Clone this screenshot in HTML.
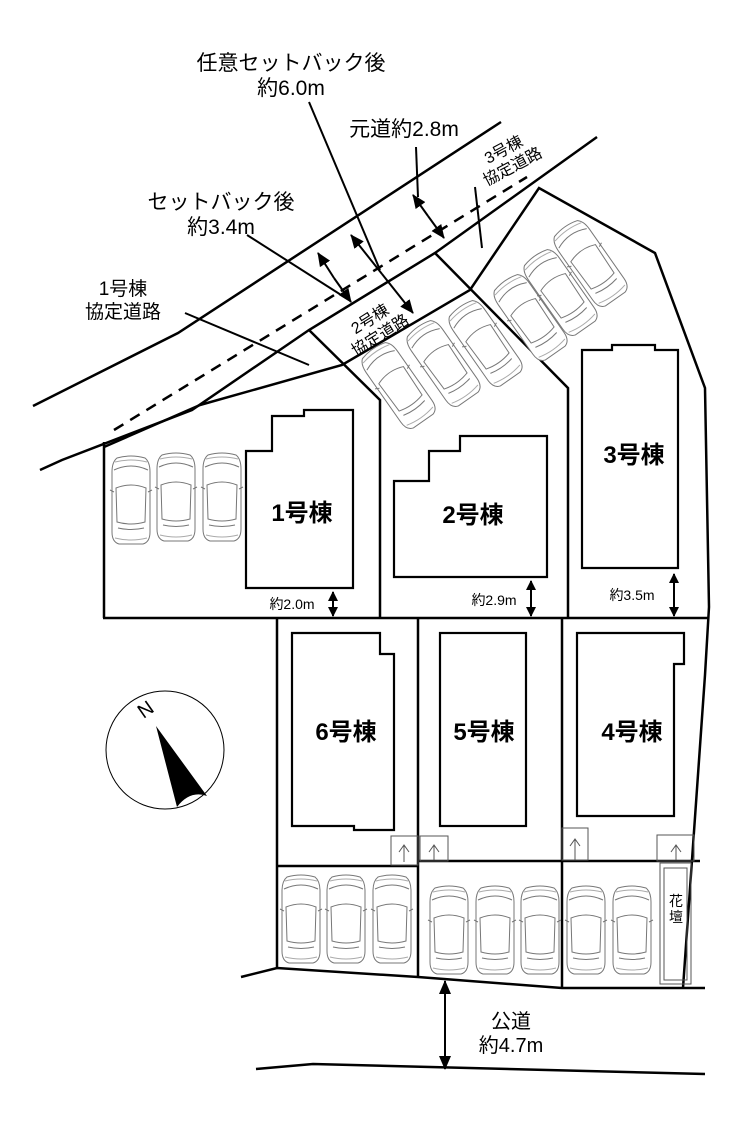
<!DOCTYPE html>
<html><head><meta charset="utf-8"><style>
html,body{margin:0;padding:0;background:#fff;}
svg{display:block;}
text{font-family:"Liberation Sans","Noto Sans CJK JP",sans-serif;fill:#000;}
</style></head><body>
<svg width="740" height="1125" viewBox="0 0 740 1125" xmlns="http://www.w3.org/2000/svg">
<defs>
<g id="car" fill="#fff" stroke="#777" stroke-width="1">
<path d="M-14,-42 Q0,-46 14,-42 Q19,-38 19,-28 L19,32 Q19,42 12,44 L-12,44 Q-19,42 -19,32 L-19,-28 Q-19,-38 -14,-42Z"/>
<path d="M-17,-30 Q0,-38 17,-30" fill="none"/>
<path d="M-15,-12 Q0,-18 15,-12 L14,22 Q0,26 -14,22Z"/>
<path d="M-13,28 Q0,31 13,28" fill="none"/>
<path d="M-21,-10 L-17,-8 M21,-10 L17,-8" />
<path d="M-16,-38 Q0,-42 16,-38 M-16,38 Q0,42 16,38" fill="none" stroke="#aaa"/>
</g>
<marker id="ah" markerWidth="10" markerHeight="10" refX="9" refY="5" orient="auto" markerUnits="userSpaceOnUse"><path d="M0,0 L10,5 L0,10Z" fill="#000"/></marker>
<marker id="ah2" markerWidth="14" markerHeight="12" refX="13" refY="6" orient="auto" markerUnits="userSpaceOnUse"><path d="M0,0 L14,6 L0,12Z" fill="#000"/></marker>
</defs>

<g fill="none" stroke="#000" stroke-width="2.5" stroke-linejoin="miter">
<!-- top road lines -->
<polyline points="33,406 178,333 501,122"/>
<polyline points="40,470 62,460 192,410 309,330 435,253 597,137"/>
<polyline points="200,405 342,365 470,290 539,188 655,253 705,388 709,607 705,675 683,988"/>
<line x1="104" y1="442" x2="104" y2="618"/>
<polyline points="104,447 200,405"/>
<polyline points="309,330 380,400 380,618"/>
<polyline points="435,253 568,388 568,618"/>
<line x1="103" y1="618" x2="709" y2="618"/>
<!-- bottom lots -->
<polyline points="277,618 277,968"/>
<line x1="418" y1="618" x2="418" y2="977"/>
<line x1="562" y1="618" x2="562" y2="988"/>
<line x1="277" y1="866" x2="418" y2="866"/>
<line x1="418" y1="861" x2="700" y2="861"/>
<polyline points="241,977 277,968 418,977 562,988 705,988"/>
<polyline points="256,1069 313,1064 705,1074"/>
</g>
<line x1="114" y1="430" x2="527" y2="177" stroke="#000" stroke-width="2.5" stroke-dasharray="11,8"/>

<!-- buildings -->
<g fill="none" stroke="#000" stroke-width="2.2">
<polygon points="246,588 246,451 272,451 272,416 304,416 304,410 353,410 353,588"/>
<polygon points="394,577 394,481 429,481 429,451 460,451 460,436 547,436 547,577"/>
<polygon points="582,568 582,350 612,350 612,345 655,345 655,350 678,350 678,568"/>
<polygon points="292,633 380,633 380,654 394,654 394,830 354,830 354,826 292,826"/>
<rect x="440" y="633" width="86" height="193"/>
<polygon points="577,633 684,633 684,664 674,664 674,816 577,816"/>
</g>

<!-- small arrow boxes -->
<g fill="none" stroke="#555" stroke-width="1">
<rect x="391" y="836" width="27" height="29"/><path d="M404,862 V846 M399,852 L404,845 L409,852"/>
<rect x="420" y="836" width="28" height="25"/><path d="M434,860 V846 M429,852 L434,845 L439,852"/>
<rect x="562" y="828" width="26" height="32"/><path d="M575,860 V839 M570,846 L575,839 L580,846"/>
<rect x="657" y="835" width="37" height="26"/><path d="M676,860 V845 M671,852 L676,845 L681,852"/>
<rect x="660" y="863" width="31" height="121"/>
<rect x="664" y="868" width="23" height="112"/>
</g>
<text x="676" y="906" font-size="14" text-anchor="middle">花</text>
<text x="676" y="922" font-size="14" text-anchor="middle">壇</text>

<!-- cars -->
<use href="#car" transform="translate(131,500)"/>
<use href="#car" transform="translate(176,497)"/>
<use href="#car" transform="translate(222,497)"/>
<use href="#car" transform="translate(301,919)"/>
<use href="#car" transform="translate(346,919)"/>
<use href="#car" transform="translate(392,919)"/>
<use href="#car" transform="translate(449,930)"/>
<use href="#car" transform="translate(495,930)"/>
<use href="#car" transform="translate(540,930)"/>
<use href="#car" transform="translate(586,930)"/>
<use href="#car" transform="translate(632,930)"/>
<use href="#car" transform="translate(398,385) rotate(-35)"/>
<use href="#car" transform="translate(443,363) rotate(-35)"/>
<use href="#car" transform="translate(485,343) rotate(-35)"/>
<use href="#car" transform="translate(530,317) rotate(-35)"/>
<use href="#car" transform="translate(560,292) rotate(-35)"/>
<use href="#car" transform="translate(590,263) rotate(-35)"/>

<!-- leaders & dimension arrows -->
<g stroke="#000" stroke-width="2" fill="none">
<line x1="309" y1="102" x2="380" y2="270"/>
<line x1="416" y1="147" x2="418" y2="197"/>
<line x1="475" y1="187" x2="482" y2="248"/>
<line x1="247" y1="235" x2="349" y2="300"/>
<line x1="185" y1="313" x2="309" y2="365"/>
<line x1="382" y1="274" x2="351" y2="235" marker-end="url(#ah2)"/>
<line x1="382" y1="274" x2="413" y2="313" marker-end="url(#ah2)"/>
<line x1="334" y1="278" x2="318" y2="253" marker-end="url(#ah2)"/>
<line x1="334" y1="278" x2="351" y2="302" marker-end="url(#ah2)"/>
<line x1="428" y1="216" x2="413" y2="195" marker-end="url(#ah2)"/>
<line x1="428" y1="216" x2="444" y2="238" marker-end="url(#ah2)"/>
<line x1="333" y1="603" x2="333" y2="592" marker-end="url(#ah)"/>
<line x1="333" y1="603" x2="333" y2="616" marker-end="url(#ah)"/>
<line x1="531" y1="598" x2="531" y2="581" marker-end="url(#ah)"/>
<line x1="531" y1="598" x2="531" y2="616" marker-end="url(#ah)"/>
<line x1="674" y1="595" x2="674" y2="574" marker-end="url(#ah)"/>
<line x1="674" y1="595" x2="674" y2="616" marker-end="url(#ah)"/>
<line x1="445" y1="1025" x2="445" y2="981" marker-end="url(#ah2)"/>
<line x1="445" y1="1025" x2="445" y2="1069" marker-end="url(#ah2)"/>
</g>

<!-- compass -->
<circle cx="165" cy="750" r="59" fill="none" stroke="#000" stroke-width="1"/>
<path d="M156,726 L207,796 Q190,790 177,807 Z" fill="#000"/>
<text x="146" y="716" font-size="20" font-family="Liberation Serif,serif" text-anchor="middle" transform="rotate(-35 146 710)">N</text>

<!-- labels -->
<g font-size="21" text-anchor="middle">
<text x="291" y="70">任意セットバック後</text>
<text x="291" y="95">約6.0m</text>
<text x="404" y="136">元道約2.8m</text>
<text x="221" y="209">セットバック後</text>
<text x="221" y="234">約3.4m</text>
<text x="123" y="295" font-size="19">1号棟</text>
<text x="123" y="318" font-size="19">協定道路</text>
<text x="511" y="1028" font-size="20">公道</text>
<text x="511" y="1052" font-size="20">約4.7m</text>
</g>
<g font-size="16" text-anchor="middle">
<g transform="translate(508,158) rotate(-28)"><text x="0" y="-4">3号棟</text><text x="0" y="15">協定道路</text></g>
<g transform="translate(375,327) rotate(-32)"><text x="0" y="-4">2号棟</text><text x="0" y="15">協定道路</text></g>
</g>
<g font-size="24" font-weight="bold" text-anchor="middle">
<text x="302" y="521">1号棟</text>
<text x="473" y="523">2号棟</text>
<text x="634" y="463">3号棟</text>
<text x="346" y="740">6号棟</text>
<text x="484" y="740">5号棟</text>
<text x="632" y="740">4号棟</text>
</g>
<g font-size="14" text-anchor="middle">
<text x="292" y="609">約2.0m</text>
<text x="494" y="605">約2.9m</text>
<text x="632" y="600">約3.5m</text>
</g>
</svg>
</body></html>
